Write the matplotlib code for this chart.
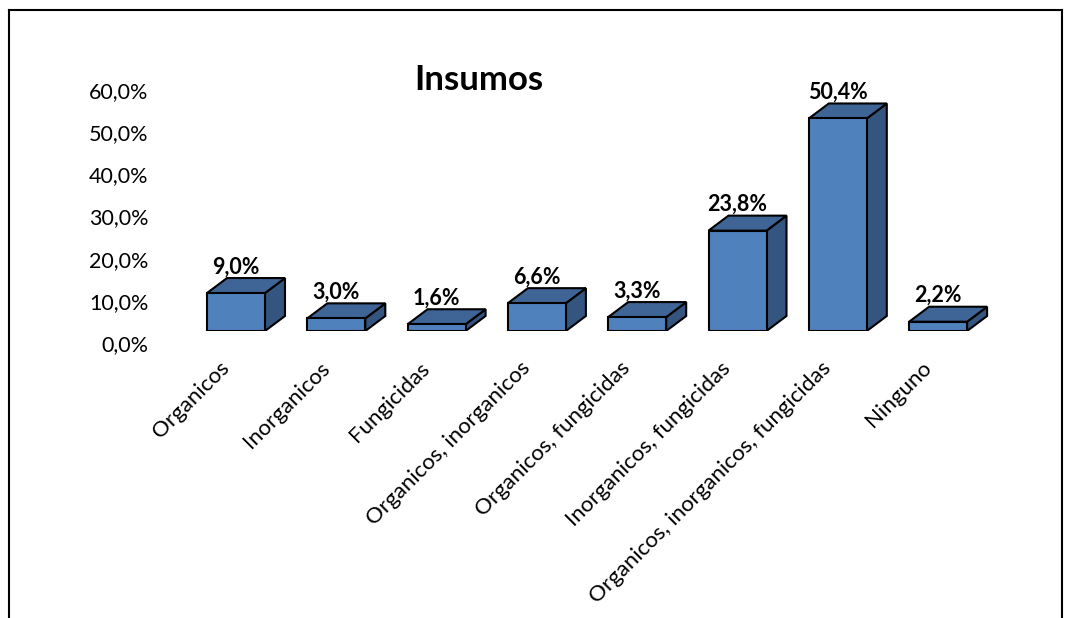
import matplotlib
matplotlib.use('Agg')
import matplotlib.pyplot as plt
from matplotlib.patches import Rectangle, Polygon
from matplotlib.lines import Line2D
from matplotlib.transforms import ScaledTranslation

plt.rcParams['font.family'] = ['Lato', 'DejaVu Sans']

# datos
categorias = ['Organicos', 'Inorganicos', 'Fungicidas', 'Organicos, inorganicos',
              'Organicos, fungicidas', 'Inorganicos, fungicidas',
              'Organicos, inorganicos, fungicidas', 'Ninguno']
valores = [9.0, 3.0, 1.6, 6.6, 3.3, 23.8, 50.4, 2.2]
ticks_y = [0, 10, 20, 30, 40, 50, 60]

W, H, DPI = 1065, 618, 100
fig = plt.figure(figsize=(W / DPI, H / DPI), dpi=DPI)

# ejes en pixeles: cero de barras en y=331, 60% en y=78
px_x0, px_x1 = 157, 1000
px_y0, px_y1 = 331, 69
ax = fig.add_axes([px_x0 / W, 1 - px_y0 / H, (px_x1 - px_x0) / W, (px_y0 - px_y1) / H])
unit_x = 100.3
ax.set_xlim(-(236 - px_x0) / unit_x, (px_x1 - 236) / unit_x)
unit_y = (331 - 78) / 60
ax.set_ylim(0, (px_y0 - px_y1) / unit_y)
for s in ax.spines.values():
    s.set_visible(False)
ax.patch.set_visible(False)

# efecto 3D
ancho = 58 / unit_x
dx = 20 / unit_x
dy = 15 / unit_y
c_frente = '#4F81BD'
c_arriba = '#3E6596'
c_lado = '#33557F'

for i, v in enumerate(valores):
    x0 = i - ancho / 2
    x1 = i + ancho / 2
    ax.add_patch(Polygon([(x1, 0), (x1 + dx, dy), (x1 + dx, v + dy), (x1, v)],
                         closed=True, fc=c_lado, ec='black', lw=1.5, zorder=2))
    ax.add_patch(Polygon([(x0, v), (x1, v), (x1 + dx, v + dy), (x0 + dx, v + dy)],
                         closed=True, fc=c_arriba, ec='black', lw=1.5, zorder=2))
    ax.add_patch(Rectangle((x0, 0), ancho, v, fc=c_frente, ec='black', lw=1.5, zorder=3))
    ax.text(i, v + dy + 0.2, f'{v:.1f}%'.replace('.', ','), ha='center', va='bottom',
            fontsize=15.5, fontweight='bold', zorder=4)

ax.set_yticks(ticks_y)
ax.set_yticklabels([f'{t:.1f}%'.replace('.', ',') for t in ticks_y], fontsize=15.5)
ax.tick_params(axis='y', length=0, pad=6)
desp = ScaledTranslation(0, -12 / DPI, fig.dpi_scale_trans)
for lab in ax.get_yticklabels():
    lab.set_transform(lab.get_transform() + desp)

ax.set_xticks([])
for i, c in enumerate(categorias):
    ax.annotate(c, xy=(i, 0), xycoords='data', xytext=(-10, -34), textcoords='offset pixels',
                rotation=45, ha='right', va='center', rotation_mode='anchor', fontsize=16,
                annotation_clip=False)

fig.text(479 / W, 1 - 80 / H, 'Insumos', ha='center', va='center', fontsize=25, fontweight='bold')

# marco
borde = dict(color='black', lw=1.5, transform=fig.transFigure)
fig.add_artist(Line2D([9 / W, 1062 / W], [1 - 10 / H, 1 - 10 / H], **borde))
fig.add_artist(Line2D([9 / W, 9 / W], [1 - 10 / H, 0], **borde))
fig.add_artist(Line2D([1062 / W, 1062 / W], [1 - 10 / H, 0], **borde))

fig.savefig('out.png', dpi=DPI)
